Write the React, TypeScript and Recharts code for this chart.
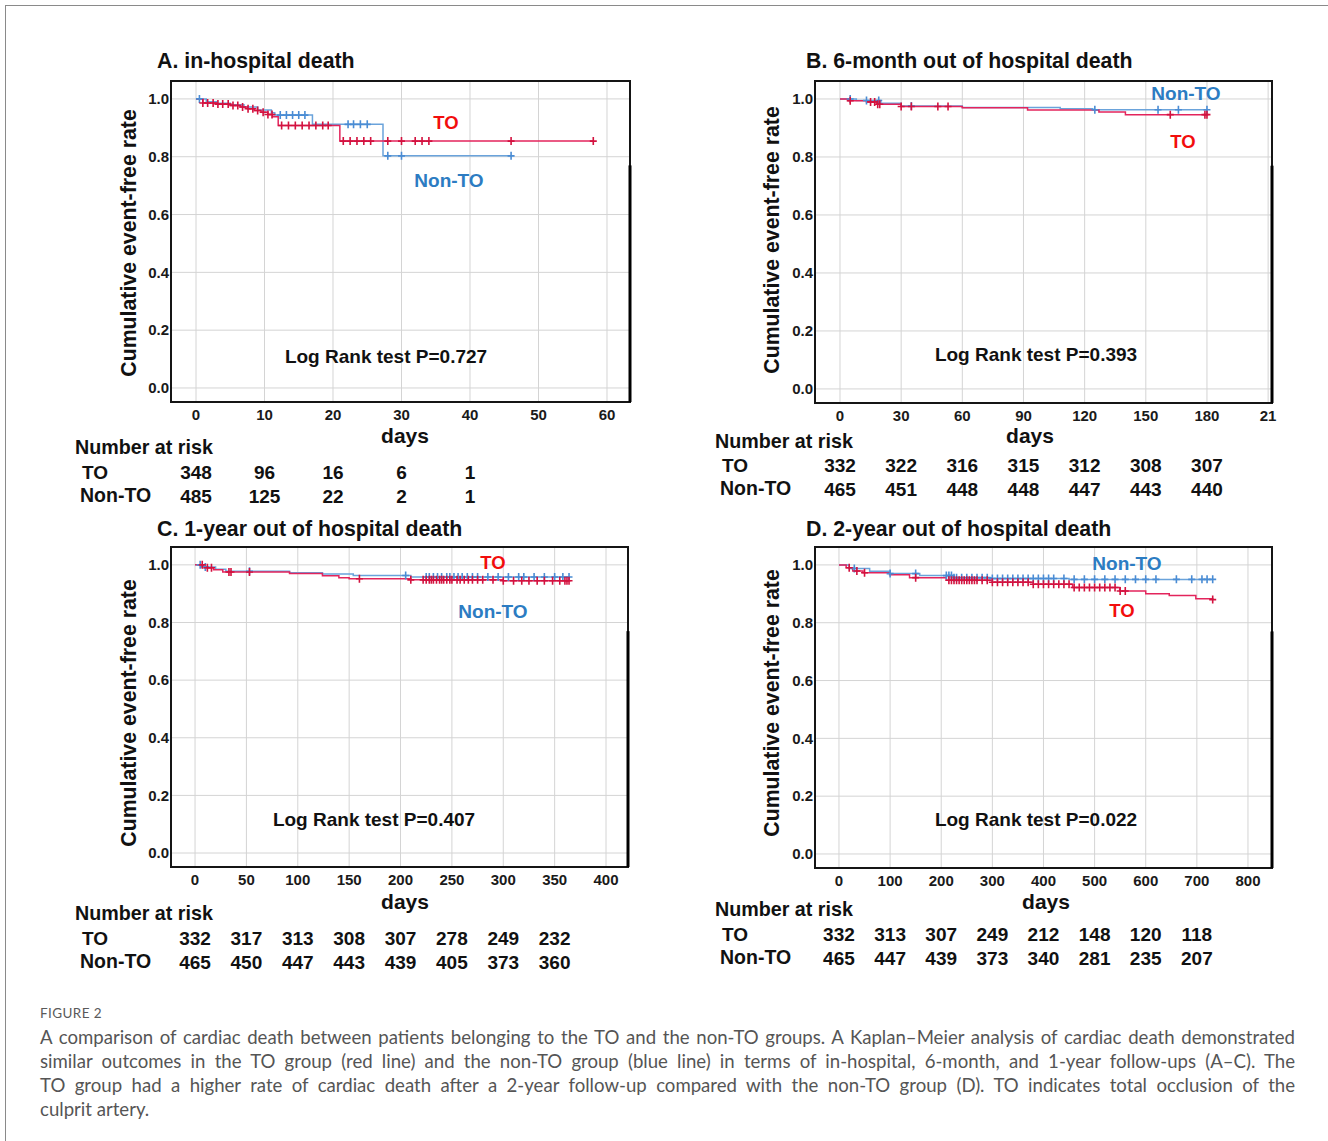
import React from 'react';
import { ComposedChart, Line, Scatter, XAxis, YAxis, CartesianGrid, ReferenceArea, ReferenceLine } from 'recharts';

const FONT = '"Liberation Sans", Arial, Helvetica, sans-serif';
const RED = '#e3245c';
const RED_MARK = '#d3123f';
const BLUE = '#6aa3db';
const BLUE_MARK = '#4a8cd4';
const LABEL_RED = '#f20d0d';
const LABEL_BLUE = '#2c7cc2';

const yTicks = [0, 0.2, 0.4, 0.6, 0.8, 1.0];

// ---------- Panel A: in-hospital death ----------
const aTicks = [0, 10, 20, 30, 40, 50, 60];
const aTickLabels = ['0', '10', '20', '30', '40', '50', '60'];
const aToTime = [0, 1, 3, 5, 6.5, 7.5, 8.5, 9.5, 10.5, 11.2, 12, 21, 58];
const aToSurv = [1.0, 0.986, 0.982, 0.977, 0.972, 0.966, 0.96, 0.954, 0.946, 0.938, 0.908, 0.854, 0.854];
const aNonTime = [0, 1.5, 3, 5, 7, 9, 11, 11.5, 17, 27.3, 46];
const aNonSurv = [1.0, 0.99, 0.985, 0.98, 0.972, 0.962, 0.952, 0.944, 0.912, 0.803, 0.803];
const aToCens = [1, 1.7, 2.5, 3.2, 3.9, 4.7, 5.4, 6.1, 6.8, 7.6, 8.3, 9, 9.8, 10.5, 11.1, 12.5, 13.5, 14.5, 15.5, 16.5, 17.5, 18.5, 19.3, 21.5, 22.5, 23.5, 24.5, 25.5, 28, 30, 32, 33, 34, 46, 58];
const aNonCens = [0.5, 12.3, 13.2, 14.1, 15, 15.9, 22.2, 23, 24, 25, 28, 30, 46];
const aRiskTimes = [0, 10, 20, 30, 40];
const aRiskTO = ['348', '96', '16', '6', '1'];
const aRiskNon = ['485', '125', '22', '2', '1'];

// ---------- Panel B: 6-month ----------
const bTicks = [0, 30, 60, 90, 120, 150, 180, 210];
const bTickLabels = ['0', '30', '60', '90', '120', '150', '180', '21'];
const bToTime = [0, 4, 13, 18, 30, 60, 92, 127, 140, 180];
const bToSurv = [1.0, 0.994, 0.99, 0.982, 0.974, 0.97, 0.962, 0.955, 0.946, 0.946];
const bNonTime = [0, 8, 20, 30, 60, 108, 124, 180];
const bNonSurv = [1.0, 0.995, 0.985, 0.976, 0.971, 0.966, 0.963, 0.963];
const bToCens = [5, 15, 17, 18.5, 19.5, 30, 35, 48, 53, 162, 179, 180];
const bNonCens = [5, 13, 19, 35, 125, 156, 166, 180];
const bRiskTimes = [0, 30, 60, 90, 120, 150, 180];
const bRiskTO = ['332', '322', '316', '315', '312', '308', '307'];
const bRiskNon = ['465', '451', '448', '448', '447', '443', '440'];

// ---------- Panel C: 1-year ----------
const cTicks = [0, 50, 100, 150, 200, 250, 300, 350, 400];
const cTickLabels = ['0', '50', '100', '150', '200', '250', '300', '350', '400'];
const cToTime = [0, 8, 18, 27, 92, 124, 140, 150, 210, 300, 364];
const cToSurv = [1.0, 0.99, 0.983, 0.975, 0.97, 0.962, 0.955, 0.952, 0.948, 0.945, 0.945];
const cNonTime = [0, 6, 20, 30, 92, 124, 154, 210, 364];
const cNonSurv = [1.0, 0.993, 0.985, 0.978, 0.973, 0.968, 0.963, 0.958, 0.958];
const cToCens = [7, 12, 16, 33, 35, 53, 160, 210, 222, 225, 228, 230, 232, 235, 238, 240, 242, 245, 248, 250, 255, 258, 262, 266, 270, 275, 280, 290, 300, 310, 318, 325, 333, 340, 348, 355, 360, 362, 364];
const cNonCens = [5, 10, 53, 205, 225, 228, 232, 236, 240, 245, 248, 252, 256, 260, 265, 270, 275, 285, 295, 305, 315, 320, 330, 340, 350, 358, 364];
const cRiskTimes = [0, 50, 100, 150, 200, 250, 300, 350];
const cRiskTO = ['332', '317', '313', '308', '307', '278', '249', '232'];
const cRiskNon = ['465', '450', '447', '443', '439', '405', '373', '360'];

// ---------- Panel D: 2-year ----------
const dTicks = [0, 100, 200, 300, 400, 500, 600, 700, 800];
const dTickLabels = ['0', '100', '200', '300', '400', '500', '600', '700', '800'];
const dToTime = [0, 14, 27, 47, 99, 138, 210, 300, 380, 457, 549, 600, 646, 698, 731];
const dToSurv = [1.0, 0.99, 0.979, 0.973, 0.966, 0.956, 0.947, 0.94, 0.933, 0.922, 0.91, 0.9, 0.894, 0.883, 0.88];
const dNonTime = [0, 20, 60, 100, 158, 223, 300, 450, 731];
const dNonSurv = [1.0, 0.988, 0.978, 0.97, 0.963, 0.956, 0.953, 0.95, 0.95];
const dToCens = [20, 35, 50, 150, 215, 220, 225, 230, 235, 240, 245, 250, 255, 260, 265, 270, 280, 290, 300, 310, 320, 330, 340, 350, 360, 370, 380, 390, 400, 410, 420, 430, 440, 450, 460, 470, 480, 490, 500, 510, 520, 530, 540, 550, 560, 731];
const dNonCens = [30, 100, 150, 210, 215, 220, 225, 230, 240, 250, 260, 270, 280, 290, 300, 310, 320, 330, 340, 350, 360, 370, 380, 390, 400, 410, 420, 440, 460, 480, 500, 520, 540, 560, 580, 600, 620, 660, 690, 710, 720, 731];
const dRiskTimes = [0, 100, 200, 300, 400, 500, 600, 700];
const dRiskTO = ['332', '313', '307', '249', '212', '148', '120', '118'];
const dRiskNon = ['465', '447', '439', '373', '340', '281', '235', '207'];

const captionLines = [
  'A comparison of cardiac death between patients belonging to the TO and the non-TO groups. A Kaplan\u2013Meier analysis of cardiac death demonstrated',
  'similar outcomes in the TO group (red line) and the non-TO group (blue line) in terms of in-hospital, 6-month, and 1-year follow-ups (A\u2013C). The',
  'TO group had a higher rate of cardiac death after a 2-year follow-up compared with the non-TO group (D). TO indicates total occlusion of the',
  'culprit artery.',
];

type Pt = { t: number; s: number };
const zip = (ts: number[], ss: number[]): Pt[] => ts.map((t, i) => ({ t, s: ss[i] }));
const survAt = (ts: number[], ss: number[], t: number) => {
  let s = ss[0];
  for (let i = 0; i < ts.length; i++) if (ts[i] <= t) s = ss[i];
  return s;
};
const censPts = (ts: number[], ss: number[], cs: number[]): Pt[] => cs.map((t) => ({ t, s: survAt(ts, ss, t) }));

const plusShape = (color: string) => (props: any) => {
  const { cx, cy } = props;
  if (cx == null || cy == null) return <g />;
  return <path d={`M${cx - 3.5},${cy}h7M${cx},${cy - 4}v8`} stroke={color} strokeWidth={1.6} fill="none" />;
};

const Y_MIN = -0.0485;
const Y_MAX = 1.062;

type PanelCfg = {
  box: { x: number; y: number; w: number; h: number };
  xMin: number; xMax: number;
  ticks: number[]; tickLabels: string[];
  toT: number[]; toS: number[]; nonT: number[]; nonS: number[];
  toC: number[]; nonC: number[];
  title: string; titlePos: [number, number];
  yTitlePos: [number, number];
  daysPos: [number, number];
  pText: string; pPos: [number, number];
  toLabelPos: [number, number]; nonLabelPos: [number, number];
  riskTimes: number[]; riskTO: string[]; riskNon: string[];
  riskHead: [number, number]; riskRowY: [number, number]; riskNameX: number;
};

const T = (props: { x: number; y: number; children: React.ReactNode; size: number; color?: string; center?: boolean; rotate?: boolean; weight?: number }) => {
  const { x, y, size, color = '#111', center, rotate, weight = 700 } = props;
  let tf = center ? 'translate(-50%,-50%)' : 'translateY(-50%)';
  if (rotate) tf = 'translate(-50%,-50%) rotate(-90deg)';
  return (
    <div style={{ position: 'absolute', left: x, top: y, transform: tf, whiteSpace: 'nowrap', fontFamily: FONT, fontSize: size, fontWeight: weight, color, lineHeight: 1 }}>
      {props.children}
    </div>
  );
};

function Panel({ c }: { c: PanelCfg }) {
  const { box } = c;
  const xPix = (t: number) => box.x + ((t - c.xMin) / (c.xMax - c.xMin)) * box.w;
  const tickStyle = { fontSize: 15, fontWeight: 700, fill: '#1a1a1a', fontFamily: FONT };
  return (
    <>
      <div style={{ position: 'absolute', left: box.x - 60, top: box.y - 5 }}>
        <ComposedChart width={box.w + 80} height={box.h + 35} margin={{ top: 5, right: 20, left: 0, bottom: 0 }}>
          <CartesianGrid stroke="#d4d4d4" strokeWidth={1} />
          <XAxis
            type="number"
            dataKey="t"
            domain={[c.xMin, c.xMax]}
            allowDataOverflow
            ticks={c.ticks}
            tickFormatter={(v: number, i: number) => c.tickLabels[i] ?? String(v)}
            axisLine={false}
            tickLine={false}
            tickSize={6}
            tickMargin={1}
            height={30}
            tick={tickStyle}
            interval={0}
          />
          <YAxis
            type="number"
            dataKey="s"
            domain={[Y_MIN, Y_MAX]}
            allowDataOverflow
            ticks={yTicks}
            tickFormatter={(v: number) => v.toFixed(1)}
            axisLine={false}
            tickLine={false}
            tickSize={0}
            tickMargin={2}
            width={60}
            tick={tickStyle}
            interval={0}
          />
          <ReferenceArea x1={c.xMin} x2={c.xMax} y1={Y_MIN} y2={Y_MAX} fill="none" fillOpacity={0} stroke="#151515" strokeWidth={2} ifOverflow="visible" />
          <ReferenceLine segment={[{ x: c.xMax, y: 0.77 }, { x: c.xMax, y: Y_MIN }]} stroke="#000" strokeWidth={3} ifOverflow="visible" />
          <Line data={zip(c.nonT, c.nonS)} dataKey="s" type="stepAfter" stroke={BLUE} strokeWidth={1.5} dot={false} activeDot={false} isAnimationActive={false} />
          <Scatter data={censPts(c.nonT, c.nonS, c.nonC)} dataKey="s" shape={plusShape(BLUE_MARK)} isAnimationActive={false} />
          <Line data={zip(c.toT, c.toS)} dataKey="s" type="stepAfter" stroke={RED} strokeWidth={1.5} dot={false} activeDot={false} isAnimationActive={false} />
          <Scatter data={censPts(c.toT, c.toS, c.toC)} dataKey="s" shape={plusShape(RED_MARK)} isAnimationActive={false} />
        </ComposedChart>
      </div>
      <T x={c.titlePos[0]} y={c.titlePos[1]} size={21.3}>{c.title}</T>
      <T x={c.yTitlePos[0]} y={c.yTitlePos[1]} size={21.3} rotate>Cumulative event-free rate</T>
      <T x={c.daysPos[0]} y={c.daysPos[1]} size={21} center>days</T>
      <T x={c.pPos[0]} y={c.pPos[1]} size={19} center>{c.pText}</T>
      <T x={c.toLabelPos[0]} y={c.toLabelPos[1]} size={18.5} center color={LABEL_RED}>TO</T>
      <T x={c.nonLabelPos[0]} y={c.nonLabelPos[1]} size={19} center color={LABEL_BLUE}>Non-TO</T>
      <T x={c.riskHead[0]} y={c.riskHead[1]} size={19.7}>Number at risk</T>
      <T x={c.riskNameX + 7} y={c.riskRowY[0]} size={19}>TO</T>
      <T x={c.riskNameX + 5} y={c.riskRowY[1]} size={19.5}>Non-TO</T>
      {c.riskTimes.map((t, i) => (
        <React.Fragment key={i}>
          <T x={xPix(t)} y={c.riskRowY[0]} size={19} center>{c.riskTO[i]}</T>
          <T x={xPix(t)} y={c.riskRowY[1]} size={19} center>{c.riskNon[i]}</T>
        </React.Fragment>
      ))}
    </>
  );
}

const panels: PanelCfg[] = [
  {
    box: { x: 171, y: 81, w: 459, h: 321 }, xMin: -3.65, xMax: 63.36,
    ticks: aTicks, tickLabels: aTickLabels,
    toT: aToTime, toS: aToSurv, nonT: aNonTime, nonS: aNonSurv, toC: aToCens, nonC: aNonCens,
    title: 'A. in-hospital death', titlePos: [157, 62], yTitlePos: [130, 243], daysPos: [405, 435],
    pText: 'Log Rank test P=0.727', pPos: [386, 356], toLabelPos: [446, 123], nonLabelPos: [449, 180],
    riskTimes: aRiskTimes, riskTO: aRiskTO, riskNon: aRiskNon, riskHead: [75, 448], riskRowY: [472, 496], riskNameX: 75,
  },
  {
    box: { x: 815, y: 81, w: 457, h: 322 }, xMin: -12.26, xMax: 211.9,
    ticks: bTicks, tickLabels: bTickLabels,
    toT: bToTime, toS: bToSurv, nonT: bNonTime, nonS: bNonSurv, toC: bToCens, nonC: bNonCens,
    title: 'B. 6-month out of hospital death', titlePos: [806, 62], yTitlePos: [773, 240], daysPos: [1030, 435],
    pText: 'Log Rank test P=0.393', pPos: [1036, 354], toLabelPos: [1183, 142], nonLabelPos: [1186, 93],
    riskTimes: bRiskTimes, riskTO: bRiskTO, riskNon: bRiskNon, riskHead: [715, 442], riskRowY: [465, 489], riskNameX: 715,
  },
  {
    box: { x: 171, y: 547, w: 457, h: 320 }, xMin: -23.4, xMax: 421.4,
    ticks: cTicks, tickLabels: cTickLabels,
    toT: cToTime, toS: cToSurv, nonT: cNonTime, nonS: cNonSurv, toC: cToCens, nonC: cNonCens,
    title: 'C. 1-year out of hospital death', titlePos: [157, 530], yTitlePos: [130, 713], daysPos: [405, 901],
    pText: 'Log Rank test P=0.407', pPos: [374, 819], toLabelPos: [493, 563], nonLabelPos: [493, 611],
    riskTimes: cRiskTimes, riskTO: cRiskTO, riskNon: cRiskNon, riskHead: [75, 914], riskRowY: [938, 962], riskNameX: 75,
  },
  {
    box: { x: 815, y: 547, w: 457, h: 321 }, xMin: -46.9, xMax: 847,
    ticks: dTicks, tickLabels: dTickLabels,
    toT: dToTime, toS: dToSurv, nonT: dNonTime, nonS: dNonSurv, toC: dToCens, nonC: dNonCens,
    title: 'D. 2-year out of hospital death', titlePos: [806, 530], yTitlePos: [773, 703], daysPos: [1046, 901],
    pText: 'Log Rank test P=0.022', pPos: [1036, 819], toLabelPos: [1122, 611], nonLabelPos: [1127, 563],
    riskTimes: dRiskTimes, riskTO: dRiskTO, riskNon: dRiskNon, riskHead: [715, 910], riskRowY: [934, 958], riskNameX: 715,
  },
];

export default function App() {
  return (
    <div style={{ position: 'absolute', left: 0, top: 0, width: 1328, height: 1141, background: '#fff', overflow: 'hidden' }}>
      <div style={{ position: 'absolute', left: 5, top: 5, width: 1323, height: 1, background: '#8a8a8a' }} />
      <div style={{ position: 'absolute', left: 5, top: 5, width: 1, height: 1136, background: '#8a8a8a' }} />
      {panels.map((p, i) => <Panel key={i} c={p} />)}
      <div style={{ position: 'absolute', left: 40, top: 1005, fontFamily: 'Lato, "Noto Sans", sans-serif', fontSize: 13.5, color: '#5a5a5a', letterSpacing: 0.4, lineHeight: '16px' }}>FIGURE 2</div>
      {captionLines.map((ln, i) => (
        <div key={i} style={{
          position: 'absolute', left: 40, top: 1025 + i * 24, width: 1255, whiteSpace: 'nowrap',
          fontFamily: 'Lato, "Noto Sans", sans-serif', fontSize: 18.6, color: '#555555', lineHeight: '24px',
          textAlign: i < 3 ? 'justify' : 'left', textAlignLast: i < 3 ? 'justify' : 'left',
        }}>{ln}</div>
      ))}
    </div>
  );
}
